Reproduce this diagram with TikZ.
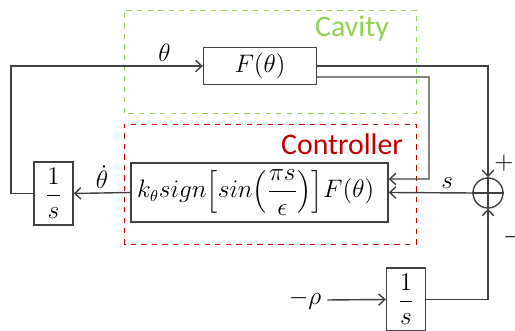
\documentclass[tikz,border=0pt]{standalone}
\usepackage{amsmath,amssymb}
\usepackage{fontspec}
\setsansfont{Carlito}
\usetikzlibrary{arrows.meta, positioning, calc}
\definecolor{lineclr}{RGB}{64, 64, 64}
\definecolor{cavitygreen}{RGB}{146, 208, 80}
\definecolor{ctrlred}{RGB}{192, 0, 0}

\begin{document}
\begin{tikzpicture}[
    font=\fontsize{13.5}{16}\selectfont,
    blockbox/.style={
        rectangle, draw=lineclr, line width=0.8pt,
        inner sep=2pt, align=center
    },
    intbox/.style={
        blockbox, minimum width=0.78cm, minimum height=1.26cm, inner sep=0pt
    },
    sumnode/.style={
        circle, draw=lineclr, line width=0.8pt, minimum size=0.6cm, inner sep=0pt
    },
    frame/.style={
        rectangle, dashed, line width=0.5pt
    },
    arrow/.style={
        -{Straight Barb[length=3.5pt, width=6.5pt]},
        line width=0.8pt, draw=lineclr
    },
    wire/.style={
        line width=0.8pt, draw=lineclr
    },
    lbl/.style={
        inner sep=2pt
    },
    framelbl/.style={
        font=\sffamily\fontsize{17}{20}\selectfont
    }
]
\useasboundingbox (0, 0) rectangle (10.3, 6.62);

% 1. Cavity and Controller frames
\draw[frame, draw=cavitygreen] (2.48, 4.36) rectangle (8.32, 6.42);
\draw[frame, draw=ctrlred] (2.48, 1.74) rectangle (8.32, 4.14);
\node[framelbl, text=cavitygreen] (cavlbl) at (7.04, 6.04) {Cavity};
\node[framelbl, text=ctrlred] (ctrllbl) at (6.84, 3.74) {Controller};

% 2. Blocks
\node[blockbox, minimum width=2.26cm, minimum height=0.74cm] (plant) at (5.2, 5.3) {$F(\theta)$};

\node[blockbox, minimum width=5.14cm, minimum height=1.18cm] (ctrl) at (5.19, 2.77) {
    $k_{\theta} sign{\left[sin{\left(\dfrac{\pi s}{\epsilon}\right)}\right]}F(\theta)$
};

\node[intbox] (intl) at (1.07, 2.75) {$\dfrac{1}{s}$};

\node[sumnode] (sum) at (9.76, 2.76) {};
\draw[wire] (sum.north) -- (sum.south);
\draw[wire] (sum.west) -- (sum.east);

\node[intbox] (intb) at (8.12, 0.63) {$\dfrac{1}{s}$};
\node (rho) at (6.1, 0.62) {$-\rho$};

\node (plus) at (10.08, 3.36) {$+$};
\node (minus) at (10.26, 1.88) {$-$};

% 3. Connections
\draw[arrow] (plant.east) -| (sum.north);
\draw[arrow] ($(plant.east)+(0, -0.22)$) -| (8.58, 3.04) -- ($(ctrl.east)+(0, 0.27)$);
\draw[arrow] (sum.west) -- node[lbl, above, pos=0.3]{$s$} (ctrl.east);
\draw[arrow] (ctrl.west) -- node[lbl, above]{$\dot{\theta}$} (intl.east);
\draw[arrow] (intl.west) -- (0.22, 2.75) |- node[lbl, above, pos=0.9]{$\theta$} (plant.west);
\draw[arrow] (rho.east) -- (intb.west);
\draw[arrow] (intb.east) -| (sum.south);

\end{tikzpicture}
\end{document}
